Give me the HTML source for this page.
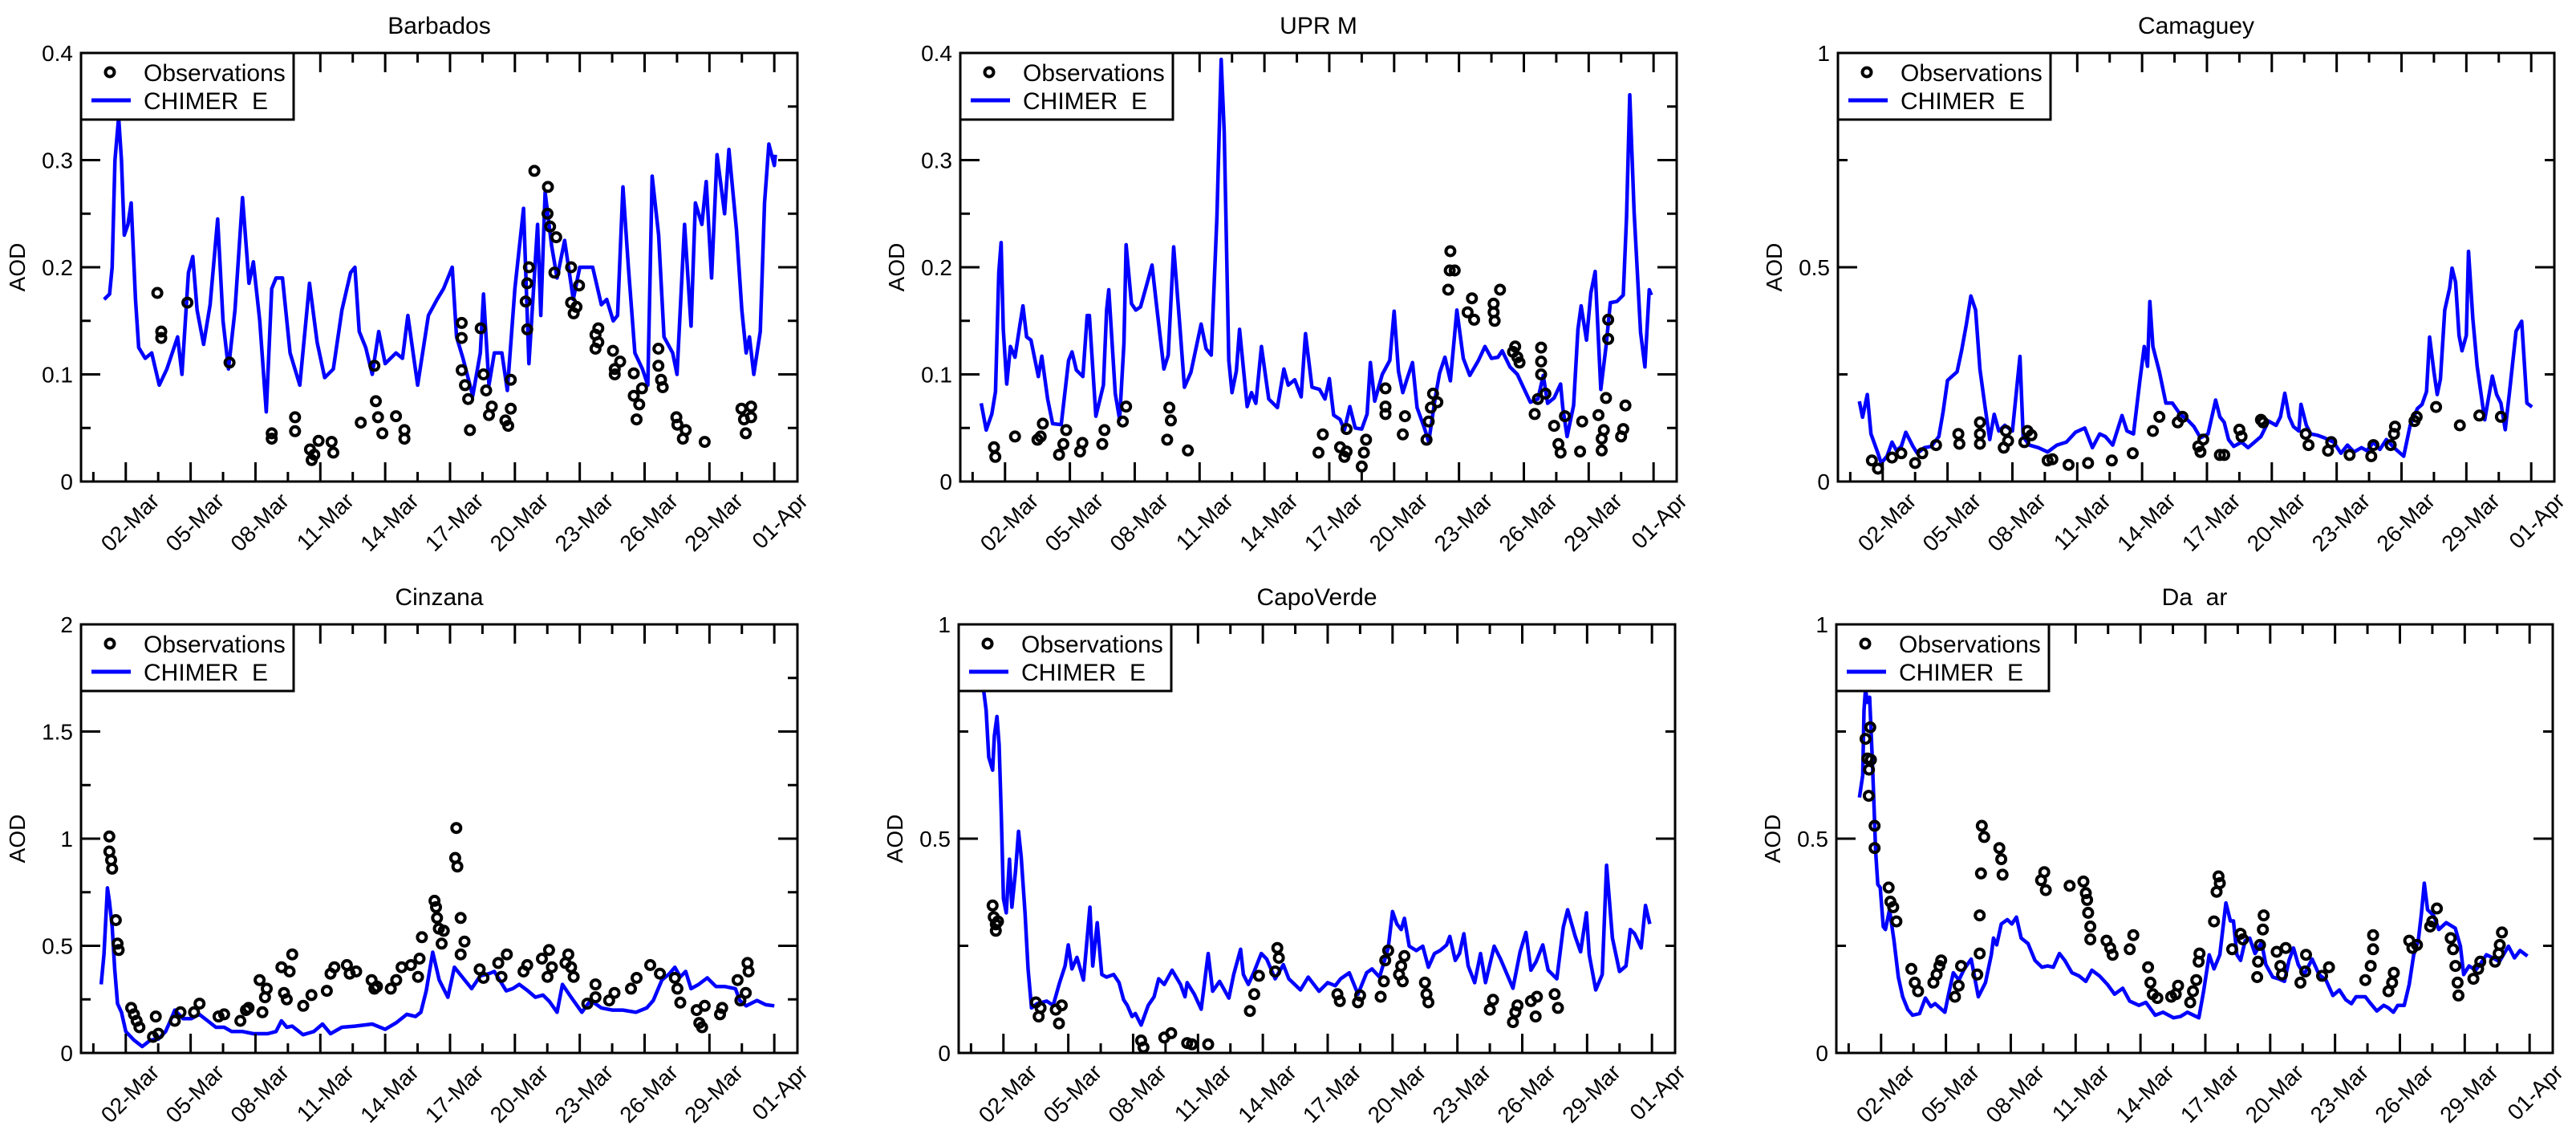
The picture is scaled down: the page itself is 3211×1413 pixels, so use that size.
<!DOCTYPE html>
<html><head><meta charset="utf-8">
<style>
html,body{margin:0;padding:0;background:#fff;}
svg{display:block;}
text{font-family:"Liberation Sans",sans-serif;fill:#000;white-space:pre;}
</style></head>
<body>
<svg id="chart" xmlns="http://www.w3.org/2000/svg" width="3211" height="1413" viewBox="0 0 3211 1413"></svg>
<script>
// ---------- shared axis data ----------
const dateLabels = ['02-Mar','05-Mar','08-Mar','11-Mar','14-Mar','17-Mar','20-Mar','23-Mar','26-Mar','29-Mar','01-Apr'];
const yLabels04 = ['0','0.1','0.2','0.3','0.4'];
const yLabels1 = ['0','0.5','1'];
const yLabels2 = ['0','0.5','1','1.5','2'];

// ---------- Barbados ----------
const barbadosModelDay = [0,0.25,0.37,0.5,0.67,0.8,0.93,1.1,1.25,1.45,1.6,1.9,2.2,2.55,2.9,3.15,3.4,3.6,3.9,4.1,4.3,4.6,4.9,5.25,5.5,5.75,6.05,6.4,6.7,6.9,7.2,7.5,7.75,7.95,8.25,8.6,9.05,9.5,9.85,10.2,10.6,11.0,11.4,11.6,11.8,12.1,12.4,12.7,13.0,13.5,13.8,14.05,14.5,15.0,15.4,15.7,16.1,16.3,16.6,17.05,17.4,17.55,17.8,18.05,18.4,18.65,19.0,19.4,19.65,20.05,20.2,20.4,20.7,20.95,21.3,21.7,22.0,22.6,23.0,23.25,23.55,23.75,24.0,24.25,24.55,24.9,25.15,25.35,25.65,25.9,26.3,26.5,26.85,27.15,27.35,27.65,27.85,28.1,28.35,28.7,28.9,29.25,29.5,29.7,29.85,30.05,30.35,30.55,30.75,31.0,31.05];
const barbadosModelAod = [0.17,0.175,0.2,0.3,0.34,0.3,0.23,0.24,0.26,0.17,0.125,0.115,0.12,0.09,0.105,0.12,0.135,0.10,0.195,0.21,0.16,0.128,0.165,0.245,0.15,0.105,0.16,0.265,0.185,0.205,0.15,0.065,0.18,0.19,0.19,0.12,0.09,0.185,0.13,0.097,0.105,0.16,0.195,0.2,0.14,0.125,0.10,0.14,0.11,0.12,0.115,0.155,0.09,0.155,0.17,0.18,0.2,0.135,0.115,0.08,0.12,0.175,0.09,0.12,0.12,0.085,0.18,0.255,0.11,0.24,0.155,0.27,0.22,0.19,0.225,0.17,0.2,0.2,0.165,0.17,0.15,0.155,0.275,0.2,0.12,0.105,0.09,0.285,0.23,0.135,0.12,0.1,0.24,0.145,0.26,0.24,0.28,0.19,0.305,0.25,0.31,0.235,0.16,0.12,0.135,0.1,0.14,0.26,0.315,0.295,0.305];
const barbadosObsDay = [2.46,2.64,2.64,3.85,5.8,7.75,7.75,8.83,8.83,9.52,9.6,9.72,9.92,10.52,10.6,11.87,12.5,12.57,12.67,12.87,13.5,13.89,13.89,16.54,16.54,16.54,16.69,16.84,16.92,17.42,17.55,17.67,17.8,17.93,18.56,18.69,18.81,18.81,19.5,19.57,19.65,19.57,19.9,20.53,20.51,20.63,20.91,20.83,21.6,21.6,21.72,21.85,21.97,22.73,22.73,22.86,22.86,23.54,23.62,23.62,23.87,24.5,24.5,24.63,24.75,24.88,25.64,25.64,25.76,25.84,26.47,26.52,26.9,26.77,27.78,29.48,29.6,29.68,29.93,29.93];
const barbadosObsAod = [0.176,0.14,0.134,0.167,0.111,0.045,0.04,0.06,0.047,0.03,0.02,0.025,0.038,0.037,0.027,0.055,0.108,0.075,0.06,0.045,0.061,0.048,0.04,0.148,0.134,0.104,0.09,0.077,0.048,0.143,0.1,0.085,0.062,0.07,0.057,0.052,0.095,0.068,0.168,0.185,0.2,0.142,0.29,0.275,0.25,0.238,0.228,0.195,0.2,0.167,0.157,0.163,0.183,0.137,0.124,0.143,0.13,0.122,0.105,0.1,0.112,0.101,0.08,0.058,0.072,0.087,0.124,0.108,0.095,0.088,0.06,0.053,0.048,0.04,0.037,0.068,0.058,0.045,0.07,0.06];

// ---------- UPR M ----------
const uprmModelDay = [-0.1,0.13,0.39,0.56,0.71,0.82,0.92,1.08,1.25,1.46,1.68,1.83,2.0,2.2,2.54,2.7,2.97,3.2,3.6,3.94,4.1,4.3,4.6,4.8,4.9,5.2,5.55,5.7,5.8,6.1,6.3,6.5,6.6,6.85,7.05,7.27,7.6,7.8,8.0,8.35,8.55,8.8,9.1,9.3,9.6,10.07,10.3,10.54,10.8,11.0,11.14,11.35,11.5,11.7,11.85,12.2,12.4,12.6,12.86,13.2,13.6,13.9,14.1,14.4,14.7,14.9,15.2,15.55,15.8,16.0,16.2,16.5,16.7,16.95,17.2,17.5,17.75,17.9,18.1,18.45,18.8,19.0,19.2,19.4,19.6,19.85,20.06,20.4,20.6,20.9,21.1,21.35,21.6,21.9,22.2,22.5,22.9,23.2,23.5,23.8,24.0,24.36,24.7,25.0,25.3,25.65,25.9,26.1,26.4,26.7,26.8,27.0,27.3,27.5,27.65,27.9,28.1,28.3,28.56,28.8,29.0,29.3,29.6,29.75,29.9,30.1,30.4,30.6,30.8,30.9];
const uprmModelAod = [0.073,0.048,0.063,0.084,0.195,0.223,0.142,0.091,0.126,0.116,0.145,0.164,0.135,0.132,0.098,0.117,0.077,0.054,0.053,0.113,0.121,0.104,0.098,0.155,0.155,0.061,0.09,0.16,0.179,0.082,0.058,0.129,0.221,0.166,0.16,0.163,0.187,0.202,0.166,0.105,0.118,0.219,0.142,0.088,0.102,0.147,0.124,0.118,0.247,0.394,0.326,0.113,0.083,0.103,0.142,0.07,0.083,0.073,0.126,0.077,0.069,0.105,0.09,0.095,0.079,0.138,0.088,0.086,0.077,0.096,0.062,0.058,0.048,0.07,0.05,0.049,0.063,0.111,0.075,0.1,0.113,0.159,0.103,0.083,0.096,0.111,0.069,0.05,0.037,0.078,0.101,0.116,0.094,0.16,0.115,0.099,0.113,0.126,0.115,0.116,0.122,0.107,0.1,0.087,0.074,0.077,0.099,0.073,0.078,0.091,0.069,0.042,0.071,0.142,0.164,0.132,0.176,0.196,0.086,0.126,0.167,0.168,0.174,0.247,0.361,0.252,0.139,0.107,0.179,0.174];
const uprmObsDay = [0.49,0.55,1.46,2.5,2.65,2.75,3.5,3.7,3.83,4.47,4.58,5.5,5.6,6.45,6.6,8.5,8.6,8.67,9.46,15.5,15.7,16.5,16.7,16.8,16.8,17.5,17.6,17.7,18.6,18.6,18.6,19.4,19.5,20.5,20.6,20.7,20.8,21.0,21.5,21.57,21.6,21.8,22.4,22.6,22.7,23.6,23.65,23.6,23.9,24.5,24.6,24.7,24.8,25.5,25.65,25.8,25.8,25.8,26.0,26.4,26.6,26.7,26.9,27.6,27.7,28.45,28.6,28.6,28.7,28.8,28.9,28.9,29.5,29.6,29.7];
const uprmObsAod = [0.032,0.023,0.042,0.039,0.042,0.054,0.025,0.035,0.048,0.028,0.036,0.035,0.048,0.056,0.07,0.039,0.069,0.057,0.029,0.027,0.044,0.032,0.023,0.028,0.049,0.014,0.027,0.039,0.07,0.063,0.087,0.044,0.061,0.039,0.056,0.069,0.082,0.074,0.179,0.197,0.215,0.197,0.158,0.171,0.151,0.158,0.15,0.166,0.179,0.121,0.126,0.116,0.111,0.063,0.077,0.125,0.112,0.1,0.082,0.052,0.035,0.027,0.061,0.028,0.056,0.062,0.04,0.029,0.048,0.078,0.133,0.151,0.042,0.049,0.071];

// ---------- Camaguey ----------
const camagueyModelDay = [-0.08,0.07,0.29,0.46,0.78,0.93,1.2,1.43,1.64,1.86,2.07,2.4,2.6,2.93,3.25,3.6,3.8,4.0,4.22,4.44,4.65,4.87,5.08,5.3,5.5,5.73,5.95,6.16,6.37,6.65,7.0,7.35,7.5,7.78,8.2,8.63,9.06,9.5,9.92,10.35,10.7,11.04,11.3,11.64,12.07,12.3,12.6,12.9,13.1,13.25,13.36,13.5,13.8,14.1,14.4,14.76,15.1,15.4,15.7,16.05,16.4,16.6,16.8,17.0,17.24,17.6,17.9,18.2,18.5,18.85,19.2,19.4,19.6,19.8,20.0,20.25,20.35,20.6,20.8,21.1,21.43,21.86,22.2,22.5,22.8,23.15,23.4,23.7,24.0,24.3,24.65,25.1,25.4,25.73,25.95,26.16,26.3,26.5,26.65,26.8,27.0,27.23,27.34,27.5,27.66,27.8,28.0,28.1,28.3,28.5,28.85,29.2,29.4,29.6,29.8,30.0,30.3,30.56,30.8,31.04];
const camagueyModelAod = [0.187,0.15,0.203,0.111,0.066,0.043,0.059,0.092,0.072,0.082,0.115,0.082,0.066,0.079,0.082,0.105,0.164,0.236,0.246,0.256,0.305,0.367,0.433,0.4,0.262,0.177,0.098,0.157,0.118,0.131,0.118,0.292,0.105,0.085,0.079,0.069,0.085,0.092,0.115,0.125,0.079,0.111,0.105,0.085,0.154,0.118,0.111,0.236,0.315,0.269,0.42,0.315,0.256,0.183,0.183,0.157,0.144,0.128,0.102,0.111,0.19,0.151,0.138,0.098,0.082,0.092,0.079,0.092,0.105,0.141,0.131,0.151,0.206,0.151,0.128,0.118,0.18,0.131,0.111,0.108,0.102,0.092,0.066,0.085,0.069,0.079,0.072,0.092,0.075,0.098,0.079,0.059,0.131,0.17,0.18,0.21,0.337,0.256,0.203,0.239,0.4,0.452,0.498,0.465,0.341,0.305,0.341,0.537,0.38,0.269,0.144,0.246,0.203,0.183,0.121,0.21,0.351,0.374,0.183,0.174];
const camagueyObsDay = [0.5,0.78,1.43,1.86,2.5,2.83,3.47,4.5,4.55,5.5,5.5,5.5,6.6,6.8,6.7,7.55,7.7,7.88,8.63,8.85,9.6,10.5,11.6,12.57,13.5,13.8,14.65,14.87,15.6,15.83,15.7,16.6,16.8,17.5,17.6,18.5,18.6,20.57,20.7,21.6,21.75,22.6,23.6,23.7,24.5,24.65,24.7,25.6,25.7,26.6,27.7,28.6,29.6];
const camagueyObsAod = [0.049,0.03,0.056,0.066,0.043,0.066,0.085,0.111,0.088,0.138,0.111,0.088,0.079,0.095,0.118,0.092,0.118,0.108,0.049,0.052,0.039,0.043,0.049,0.066,0.118,0.151,0.138,0.151,0.082,0.098,0.069,0.062,0.062,0.121,0.105,0.144,0.138,0.111,0.085,0.072,0.092,0.062,0.059,0.085,0.085,0.111,0.128,0.141,0.151,0.174,0.131,0.154,0.151];

// ---------- Cinzana ----------
const cinzanaModelDay = [-0.14,-0.01,0.15,0.24,0.37,0.49,0.62,0.8,1.0,1.38,1.76,2.14,2.51,2.84,3.02,3.27,3.65,4.03,4.4,4.79,5.17,5.55,5.9,6.4,6.9,7.57,7.95,8.2,8.45,8.7,9.2,9.7,10.1,10.47,11.0,11.6,12.4,13.0,13.5,14.0,14.4,14.65,14.9,15.2,15.5,15.9,16.2,16.6,17.0,17.4,17.8,18.05,18.6,18.9,19.2,19.6,19.95,20.3,20.6,20.95,21.2,21.6,22.1,22.5,23.0,23.5,24.0,24.6,25.1,25.4,25.8,26.15,26.4,26.65,26.9,27.15,27.5,27.9,28.3,28.7,29.2,29.4,29.7,30.2,30.6,31.0];
const cinzanaModelAod = [0.32,0.46,0.77,0.71,0.59,0.39,0.23,0.19,0.1,0.06,0.03,0.06,0.065,0.1,0.14,0.2,0.16,0.16,0.18,0.15,0.12,0.12,0.1,0.1,0.09,0.09,0.1,0.15,0.12,0.125,0.085,0.1,0.135,0.09,0.12,0.125,0.135,0.11,0.14,0.18,0.17,0.19,0.29,0.47,0.34,0.26,0.4,0.35,0.3,0.36,0.37,0.38,0.29,0.3,0.32,0.29,0.26,0.27,0.24,0.19,0.32,0.26,0.19,0.245,0.21,0.2,0.2,0.19,0.21,0.245,0.34,0.37,0.4,0.355,0.38,0.3,0.32,0.35,0.31,0.31,0.3,0.245,0.22,0.245,0.225,0.22];
const cinzanaObsDay = [0.24,0.24,0.32,0.37,0.54,0.62,0.67,1.25,1.38,1.5,1.63,2.39,2.26,2.51,3.53,3.27,4.41,4.16,5.29,5.55,6.3,6.56,6.68,7.19,7.32,7.44,7.52,8.2,8.32,8.45,8.58,8.7,9.21,9.59,10.3,10.47,10.65,11.23,11.36,11.66,12.37,12.5,12.62,13.26,13.51,13.76,14.19,14.52,14.59,14.7,15.28,15.35,15.4,15.48,15.61,15.71,16.29,16.24,16.34,16.49,16.49,16.67,17.37,17.55,18.23,18.38,18.63,19.4,19.57,20.25,20.58,20.51,20.71,21.47,21.34,21.6,21.72,22.35,22.73,22.73,23.36,23.61,24.37,24.63,25.26,25.71,26.4,26.52,26.65,27.41,27.53,27.66,27.78,28.49,28.59,29.3,29.43,29.68,29.76,29.81];
const cinzanaObsAod = [1.01,0.94,0.9,0.86,0.62,0.51,0.48,0.21,0.18,0.15,0.12,0.17,0.075,0.09,0.19,0.15,0.23,0.19,0.17,0.18,0.15,0.2,0.21,0.34,0.19,0.26,0.3,0.4,0.28,0.25,0.38,0.46,0.22,0.27,0.29,0.37,0.4,0.41,0.37,0.38,0.34,0.3,0.31,0.3,0.34,0.4,0.41,0.355,0.44,0.54,0.71,0.68,0.63,0.58,0.51,0.57,1.05,0.91,0.87,0.63,0.46,0.52,0.39,0.35,0.42,0.355,0.46,0.38,0.41,0.44,0.48,0.355,0.4,0.46,0.42,0.4,0.355,0.23,0.32,0.26,0.245,0.28,0.3,0.35,0.41,0.37,0.35,0.3,0.235,0.2,0.14,0.12,0.22,0.18,0.21,0.34,0.245,0.28,0.42,0.38];

// ---------- CapoVerde ----------
const capoModelDay = [0.05,0.2,0.32,0.5,0.58,0.7,0.8,0.9,1.0,1.13,1.28,1.39,1.56,1.7,1.82,2.0,2.14,2.3,2.56,3.0,3.3,3.6,3.85,4.0,4.17,4.4,4.7,5.0,5.13,5.34,5.55,5.77,6.1,6.35,6.56,6.73,6.95,7.1,7.37,7.7,7.97,8.18,8.44,8.8,9.19,9.4,9.5,9.83,10.15,10.47,10.68,11.0,11.43,11.65,11.97,12.1,12.33,12.6,12.93,13.18,13.57,13.95,14.2,14.74,15.1,15.6,16.0,16.35,16.6,17.0,17.4,17.8,18.05,18.4,18.8,19.0,19.2,19.4,19.55,19.77,20.1,20.4,20.66,20.94,21.2,21.5,21.65,21.9,22.1,22.3,22.5,22.8,23.07,23.3,23.7,24.0,24.57,24.9,25.17,25.4,25.64,25.95,26.2,26.6,26.9,27.1,27.45,27.7,27.97,28.1,28.4,28.7,28.9,29.17,29.5,29.8,30.0,30.2,30.5,30.7,30.9];
const capoModelAod = [0.86,0.8,0.69,0.66,0.74,0.785,0.72,0.556,0.36,0.327,0.452,0.34,0.425,0.517,0.458,0.327,0.196,0.105,0.115,0.121,0.111,0.164,0.203,0.252,0.196,0.223,0.17,0.34,0.203,0.304,0.183,0.177,0.183,0.164,0.124,0.111,0.085,0.092,0.065,0.111,0.131,0.173,0.16,0.193,0.16,0.131,0.164,0.137,0.102,0.232,0.144,0.167,0.128,0.183,0.242,0.183,0.16,0.19,0.232,0.219,0.173,0.206,0.173,0.147,0.177,0.144,0.164,0.157,0.173,0.187,0.137,0.187,0.196,0.177,0.245,0.33,0.301,0.288,0.314,0.249,0.239,0.249,0.2,0.232,0.239,0.252,0.272,0.216,0.232,0.278,0.203,0.164,0.232,0.164,0.249,0.219,0.151,0.236,0.281,0.193,0.213,0.252,0.193,0.173,0.294,0.334,0.272,0.236,0.327,0.229,0.147,0.183,0.438,0.268,0.19,0.203,0.288,0.278,0.245,0.344,0.301];
const capoObsDay = [0.5,0.55,0.65,0.65,0.75,2.5,2.63,2.72,3.42,3.57,3.7,7.37,7.48,8.44,8.76,9.5,9.72,10.47,12.4,12.6,12.82,13.57,13.67,13.74,16.45,16.56,17.4,17.5,18.45,18.6,18.66,18.8,19.3,19.4,19.47,19.55,20.5,20.57,20.66,23.5,23.65,24.57,24.68,24.78,25.4,25.62,25.68,26.5,26.65];
const capoObsAod = [0.344,0.317,0.3,0.285,0.307,0.118,0.085,0.105,0.101,0.069,0.111,0.029,0.013,0.036,0.046,0.023,0.02,0.02,0.098,0.137,0.18,0.19,0.245,0.222,0.137,0.121,0.118,0.134,0.131,0.167,0.216,0.239,0.183,0.203,0.167,0.226,0.164,0.137,0.118,0.101,0.124,0.072,0.095,0.111,0.121,0.085,0.131,0.137,0.105];

// ---------- Dakar ----------
const dakarModelDay = [0,0.15,0.21,0.28,0.36,0.47,0.58,0.66,0.75,0.85,0.96,1.1,1.2,1.39,1.6,1.8,2.0,2.24,2.46,2.78,3.05,3.3,3.5,3.95,4.12,4.34,4.6,4.85,5.17,5.5,5.83,6.1,6.2,6.35,6.56,6.84,7.05,7.26,7.48,7.8,8.12,8.44,8.7,8.97,9.25,9.5,9.83,10.15,10.47,10.75,11.1,11.47,11.8,12.18,12.5,12.93,13.25,13.68,14.04,14.53,14.85,15.17,15.7,15.92,16.18,16.4,16.67,16.95,17.16,17.3,17.46,17.63,17.84,18.05,18.3,18.6,18.8,19.12,19.38,19.66,19.87,20.08,20.3,20.57,20.94,21.26,21.58,21.9,22.2,22.5,22.76,22.97,23.4,23.6,23.93,24.25,24.47,24.7,24.9,25.2,25.43,25.64,25.85,26.0,26.13,26.28,26.56,26.8,27.14,27.56,27.8,27.95,28.2,28.5,28.7,29.0,29.3,29.6,30.02,30.3,30.56,30.9];
const dakarModelAod = [0.596,0.648,0.8,0.85,0.818,0.83,0.7,0.596,0.47,0.393,0.386,0.295,0.288,0.334,0.262,0.177,0.131,0.101,0.088,0.092,0.128,0.108,0.115,0.095,0.137,0.187,0.17,0.196,0.219,0.131,0.164,0.229,0.268,0.252,0.301,0.311,0.301,0.317,0.268,0.255,0.216,0.2,0.203,0.2,0.232,0.216,0.187,0.18,0.167,0.193,0.18,0.16,0.137,0.151,0.121,0.111,0.118,0.088,0.095,0.082,0.085,0.095,0.082,0.144,0.229,0.196,0.229,0.35,0.308,0.308,0.229,0.216,0.262,0.268,0.232,0.258,0.206,0.177,0.173,0.167,0.216,0.245,0.206,0.183,0.219,0.183,0.17,0.134,0.147,0.124,0.115,0.131,0.131,0.118,0.098,0.111,0.105,0.095,0.111,0.111,0.16,0.229,0.262,0.327,0.396,0.334,0.321,0.288,0.304,0.291,0.249,0.183,0.203,0.193,0.206,0.229,0.222,0.213,0.249,0.222,0.239,0.226];
const dakarObsDay = [0.28,0.37,0.44,0.5,0.53,0.43,0.7,0.7,1.35,1.43,1.56,1.71,2.4,2.56,2.71,3.42,3.57,3.7,3.78,4.42,4.59,4.7,5.45,5.56,5.56,5.62,5.66,5.77,6.47,6.56,6.62,8.4,8.55,8.62,9.72,10.36,10.47,10.53,10.58,10.68,10.68,11.43,11.6,11.71,12.5,12.67,13.35,13.46,13.57,13.78,14.42,14.74,14.63,15.3,15.43,15.58,15.69,15.73,16.4,16.52,16.61,16.67,17.24,17.63,17.74,18.4,18.44,18.53,18.66,18.7,19.3,19.47,19.55,19.72,20.4,20.62,20.66,21.4,21.72,23.4,23.65,23.76,23.76,24.47,24.64,24.72,25.43,25.58,25.79,26.4,26.5,26.71,27.35,27.46,27.57,27.67,27.71,28.4,28.62,28.72,29.4,29.57,29.62,29.72];
const dakarObsAod = [0.733,0.687,0.661,0.76,0.684,0.6,0.53,0.478,0.386,0.353,0.34,0.307,0.196,0.164,0.144,0.164,0.183,0.203,0.216,0.131,0.157,0.203,0.183,0.232,0.321,0.419,0.53,0.504,0.478,0.452,0.416,0.403,0.422,0.38,0.39,0.4,0.373,0.357,0.327,0.295,0.265,0.262,0.245,0.229,0.242,0.275,0.2,0.164,0.137,0.128,0.131,0.157,0.137,0.118,0.144,0.17,0.213,0.232,0.307,0.376,0.412,0.396,0.242,0.278,0.265,0.177,0.213,0.252,0.288,0.321,0.236,0.203,0.183,0.245,0.164,0.19,0.229,0.18,0.2,0.17,0.203,0.242,0.275,0.144,0.164,0.187,0.262,0.245,0.252,0.295,0.307,0.337,0.268,0.242,0.203,0.164,0.134,0.173,0.196,0.213,0.213,0.232,0.252,0.281];

// ---------- rendering ----------
const NS = 'http://www.w3.org/2000/svg';
const svg = document.getElementById('chart');
const PW = 893, PH = 534, D0 = -1.07, D1 = 32.07;

function mk(tag, attrs, parent) {
  const e = document.createElementNS(NS, tag);
  for (const k in attrs) e.setAttribute(k, attrs[k]);
  (parent || svg).appendChild(e);
  return e;
}

const panels = [
  {key:'barbados', title:'Barbados', left:101, top:66, ymax:0.4, major:0.1, labels:yLabels04, md:barbadosModelDay, mv:barbadosModelAod, od:barbadosObsDay, ov:barbadosObsAod},
  {key:'uprm', title:'UPR M', left:1197, top:66, ymax:0.4, major:0.1, labels:yLabels04, md:uprmModelDay, mv:uprmModelAod, od:uprmObsDay, ov:uprmObsAod},
  {key:'camaguey', title:'Camaguey', left:2291, top:66, ymax:1, major:0.5, labels:yLabels1, md:camagueyModelDay, mv:camagueyModelAod, od:camagueyObsDay, ov:camagueyObsAod},
  {key:'cinzana', title:'Cinzana', left:101, top:778, ymax:2, major:0.5, labels:yLabels2, md:cinzanaModelDay, mv:cinzanaModelAod, od:cinzanaObsDay, ov:cinzanaObsAod},
  {key:'capoverde', title:'CapoVerde', left:1195, top:778, ymax:1, major:0.5, labels:yLabels1, md:capoModelDay, mv:capoModelAod, od:capoObsDay, ov:capoObsAod},
  {key:'dakar', title:'Da  ar', left:2289, top:778, ymax:1, major:0.5, labels:yLabels1, md:dakarModelDay, mv:dakarModelAod, od:dakarObsDay, ov:dakarObsAod}
];

panels.forEach(p => {
  const g = mk('g', {});
  
  
  const L = p.left, T = p.top, B = T + PH, R = L + PW;
  const xs = d => L + (d - D0) / (D1 - D0) * PW;
  const ys = v => B - v / p.ymax * PH;

  const title = mk('text', {x: L + PW/2, y: T - 24, 'text-anchor':'middle', 'font-size':30}, g);
  title.textContent = p.title;
  
  

  // series: model line
  const clipId = 'clip-' + p.key;
  const cp = mk('clipPath', {id: clipId}, g);
  mk('rect', {x:L, y:T, width:PW, height:PH}, cp);
  let dstr = '';
  p.md.forEach((d, i) => { dstr += (i ? 'L' : 'M') + xs(d).toFixed(1) + ' ' + ys(p.mv[i]).toFixed(1); });
  const line = mk('path', {d: dstr, fill:'none', stroke:'#0000ff', 'stroke-width':4.5, 'stroke-linejoin':'round', 'clip-path':'url(#' + clipId + ')'}, g);
  
  

  // series: observations
  const og = mk('g', {fill:'none', stroke:'#000', 'stroke-width':4}, g);
  
  
  p.od.forEach((d, i) => {
    const c = mk('circle', {cx: xs(d).toFixed(1), cy: ys(p.ov[i]).toFixed(1), r: 5.5}, og);
    
    
  });

  // frame
  const frame = mk('rect', {x:L, y:T, width:PW, height:PH, fill:'none', stroke:'#000', 'stroke-width':3}, g);
  
  

  // x ticks
  const tg = mk('g', {stroke:'#000', 'stroke-width':3}, g);
  
  
  for (let k = 0; k < dateLabels.length; k++) {
    const xm = xs(1 + 3*k), xn = xs(-0.5 + 3*k);
    mk('line', {x1:xm, y1:B, x2:xm, y2:B-24}, tg);
    mk('line', {x1:xm, y1:T, x2:xm, y2:T+24}, tg);
    mk('line', {x1:xn, y1:B, x2:xn, y2:B-12}, tg);
    mk('line', {x1:xn, y1:T, x2:xn, y2:T+12}, tg);
    const ax = xs(2.5 + 3*k) + 3, ay = B + 26;
    const t = mk('text', {x:ax, y:ay, 'text-anchor':'end', 'font-size':28, transform:'rotate(-45 ' + ax + ' ' + ay + ')'}, g);
    t.textContent = dateLabels[k];
    
    
  }
  // y ticks
  const yg = mk('g', {stroke:'#000', 'stroke-width':3}, g);
  
  
  p.labels.forEach((lab, i) => {
    const v = i * p.major, y = ys(v);
    mk('line', {x1:L, y1:y, x2:L+24, y2:y}, yg);
    mk('line', {x1:R, y1:y, x2:R-24, y2:y}, yg);
    if (i < p.labels.length - 1) {
      const ym = ys(v + p.major/2);
      mk('line', {x1:L, y1:ym, x2:L+12, y2:ym}, yg);
      mk('line', {x1:R, y1:ym, x2:R-12, y2:ym}, yg);
    }
    const t = mk('text', {x:L-10, y:y+10, 'text-anchor':'end', 'font-size':28}, g);
    t.textContent = lab;
    
    
  });
  const yt = mk('text', {x:L-70, y:T+PH/2, 'text-anchor':'middle', 'font-size':28, transform:'rotate(-90 ' + (L-70) + ' ' + (T+PH/2) + ')'}, g);
  yt.textContent = 'AOD';
  
  

  // legend
  const lg = mk('g', {}, g);
  
  
  mk('rect', {x:L, y:T, width:265, height:83, fill:'#fff', stroke:'#000', 'stroke-width':3}, lg);
  mk('circle', {cx:L+36, cy:T+24, r:5.5, fill:'none', stroke:'#000', 'stroke-width':4}, lg);
  const t1 = mk('text', {x:L+78, y:T+35, 'font-size':30}, lg);
  t1.textContent = 'Observations';
  
  
  mk('line', {x1:L+13, y1:T+59, x2:L+62, y2:T+59, stroke:'#0000ff', 'stroke-width':5}, lg);
  const t2 = mk('text', {x:L+78, y:T+70, 'font-size':30}, lg);
  t2.textContent = 'CHIMER  E';
  
  
});
</script>
</body></html>
